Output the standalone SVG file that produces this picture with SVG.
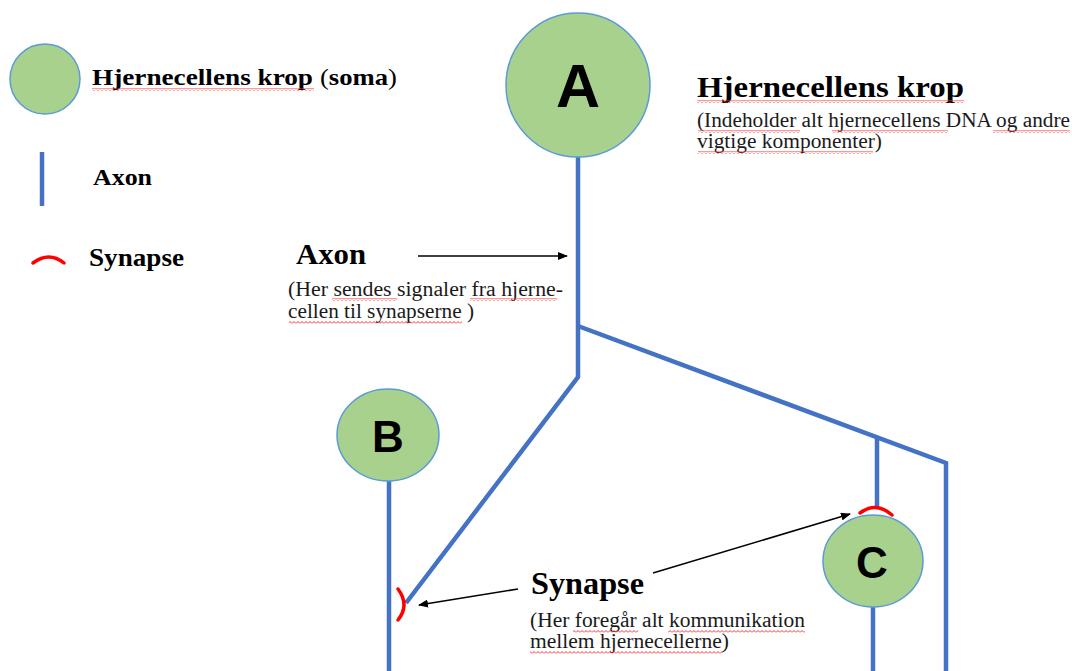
<svg xmlns="http://www.w3.org/2000/svg" width="1072" height="671" viewBox="0 0 1072 671">
<style>
.soma{fill:#A9D18E;stroke:#5B9BD5;stroke-width:1.5}
.axon{fill:none;stroke:#4472C4;stroke-width:4.5;stroke-linejoin:miter}
.syn{fill:none;stroke:#FF0000;stroke-width:3.5;stroke-linecap:round}
.arr{fill:none;stroke:#000;stroke-width:1.5;marker-end:url(#ah)}
.t{font-family:"Liberation Serif","Times New Roman",serif;fill:#000}
.b{font-weight:bold}
.s{font-size:20px;fill:#1a1a1a}
.L{font-family:"Liberation Sans",Arial,sans-serif;font-weight:bold;fill:#000;text-anchor:middle}
.w{fill:url(#wave)}
</style>
<defs>
<marker id="ah" markerWidth="10" markerHeight="8" refX="9" refY="4" orient="auto" markerUnits="userSpaceOnUse">
<path d="M0,0 L10,4 L0,8 Z" fill="#000"/>
</marker>
<pattern id="wave" width="4" height="3" patternUnits="userSpaceOnUse">
<path d="M0,2.5 L2,0.5 L4,2.5" fill="none" stroke="#FF3030" stroke-width="1"/>
</pattern>
</defs>

<g id="legend">
<circle class="soma" cx="45" cy="79" r="35"/>
<text class="t b" x="92" y="85" font-size="24" textLength="221" lengthAdjust="spacingAndGlyphs">Hjernecellens krop</text>
<text class="t" x="320" y="85" font-size="24" textLength="77" lengthAdjust="spacingAndGlyphs">(<tspan class="b">soma</tspan>)</text>
<rect class="w" x="92" y="88" width="222" height="3"/>
<line x1="42" y1="152" x2="42" y2="206" stroke="#4472C4" stroke-width="4.5"/>
<text class="t b" x="93" y="185" font-size="24" textLength="59" lengthAdjust="spacingAndGlyphs">Axon</text>
<path class="syn" d="M33,263 Q49,251 64,263"/>
<text class="t b" x="89" y="266" font-size="25" textLength="95" lengthAdjust="spacingAndGlyphs">Synapse</text>
</g>

<g id="connectors">
<path class="axon" d="M578,157 L578,377 L406,603"/>
<path class="axon" d="M578,326 L946,463 L946,671"/>
<path class="axon" d="M877,437 L877,507"/>
<path class="axon" d="M389,481 L389,671"/>
<path class="axon" d="M873,607 L873,671"/>
<path class="syn" d="M398,589 Q410,605 398,620"/>
<path class="syn" d="M860,513 Q876,501 892,515"/>
<line class="arr" x1="418" y1="256" x2="567" y2="256"/>
<line class="arr" x1="518" y1="589" x2="419" y2="605"/>
<line class="arr" x1="653" y1="573" x2="850" y2="514"/>
</g>

<g id="nodeA">
<circle class="soma" cx="578" cy="85" r="72"/>
<text class="L" x="578" y="107" font-size="61">A</text>
</g>
<g id="nodeB">
<ellipse class="soma" cx="388" cy="435" rx="51" ry="46"/>
<text class="L" x="388" y="452" font-size="44">B</text>
</g>
<g id="nodeC">
<ellipse class="soma" cx="873" cy="561" rx="50" ry="46"/>
<text class="L" x="872" y="578" font-size="44">C</text>
</g>

<g id="label-soma">
<text class="t b" x="697" y="97" font-size="30" textLength="267" lengthAdjust="spacingAndGlyphs">Hjernecellens krop</text>
<rect class="w" x="697" y="100" width="267" height="3"/>
<text class="t s" x="697" y="127" textLength="373" lengthAdjust="spacingAndGlyphs">(Indeholder alt hjernecellens DNA og andre</text>
<text class="t s" x="697" y="148" textLength="185" lengthAdjust="spacingAndGlyphs">vigtige komponenter)</text>
<rect class="w" x="698" y="130" width="102" height="3"/>
<rect class="w" x="832" y="130" width="116" height="3"/>
<rect class="w" x="993" y="130" width="77" height="3"/>
<rect class="w" x="698" y="151" width="175" height="3"/>
</g>

<g id="label-axon">
<text class="t b" x="296" y="264" font-size="30" textLength="70" lengthAdjust="spacingAndGlyphs">Axon</text>
<text class="t s" x="288" y="296" textLength="275" lengthAdjust="spacingAndGlyphs">(Her sendes signaler fra hjerne-</text>
<text class="t s" x="288" y="318" textLength="186" lengthAdjust="spacingAndGlyphs">cellen til synapserne )</text>
<rect class="w" x="332" y="298" width="65" height="3"/>
<rect class="w" x="470" y="298" width="87" height="3"/>
<rect class="w" x="289" y="321" width="173" height="3"/>
</g>

<g id="label-synapse">
<text class="t b" x="531" y="594" font-size="31" textLength="113" lengthAdjust="spacingAndGlyphs">Synapse</text>
<text class="t s" x="530" y="627" textLength="275" lengthAdjust="spacingAndGlyphs">(Her foregår alt kommunikation</text>
<text class="t s" x="530" y="648" textLength="199" lengthAdjust="spacingAndGlyphs">mellem hjernecellerne)</text>
<rect class="w" x="573" y="630" width="65" height="3"/>
<rect class="w" x="668" y="630" width="137" height="3"/>
<rect class="w" x="530" y="651" width="193" height="3"/>
</g>
</svg>
